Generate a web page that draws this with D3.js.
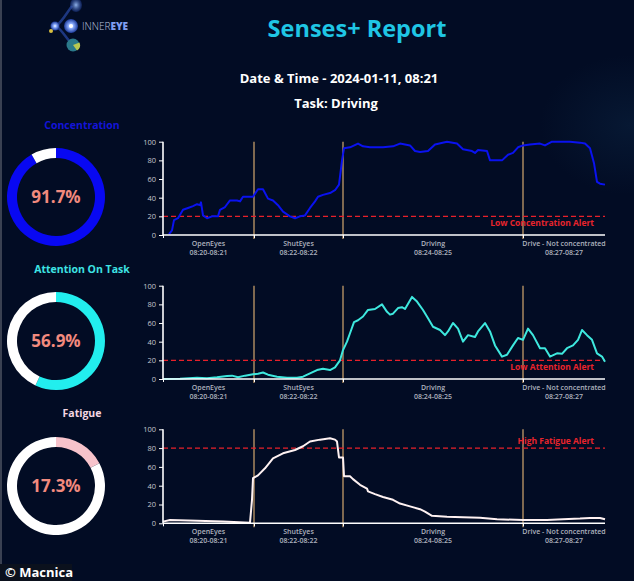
<!DOCTYPE html>
<html><head><meta charset="utf-8">
<script src="https://cdn.jsdelivr.net/npm/d3@7"></script>
<style>
html,body{margin:0;padding:0;background:#020c24;overflow:hidden}
svg{display:block}
text{font-family:"Open Sans","Noto Sans",sans-serif}
</style></head>
<body><svg id="c" width="634" height="581"></svg>
<script>
// ---------- data ----------
const title = "Senses+ Report";
const dateLine = "Date & Time - 2024-01-11, 08:21";
const taskLine = "Task: Driving";
const segmentNames = ["OpenEyes", "ShutEyes", "Driving", "Drive - Not concentrated"];
const segmentTimes = ["08:20-08:21", "08:22-08:22", "08:24-08:25", "08:27-08:27"];
const segmentBounds = [0, 91, 180, 360, 442];
const yTicks = [0, 20, 40, 60, 80, 100];

const gaugeNames = ["Concentration", "Attention On Task", "Fatigue"];
const gaugeValues = [91.7, 56.9, 17.3];

const concT = [6,9,11,15,20,25,30,34,37,38,40,44,49,55,57,62,67,74,77,80,90,95,100,105,110,115,120,127,132,137,142,147,152,155,160,167,172,176,179,181,187,195,200,207,220,230,237,247,252,257,265,272,284,294,300,309,312,315,324,327,339,345,350,355,360,367,377,382,389,400,407,417,422,427,431,434,437,442];
const concV = [1,5,16,18,27,29,31,33,32,35,21,18,20,20,27,30,37,37,36,41,41,49,49,39,37,32,25,20,18,20,21,29,36,41,43,45,48,54,80,93,94,98,95,94,94,95,98,96,90,89,90,97,100,98,92,90,88,91,90,80,80,86,88,94,96,97,98,96,100,100,100,99,98,93,77,57,55,54];

const attT = [0,17,34,44,54,64,69,75,82,90,95,100,105,114,124,134,140,147,154,160,167,172,177,180,184,187,191,195,200,205,212,219,224,227,230,235,239,242,249,254,260,265,270,277,282,285,290,295,300,305,312,315,322,327,332,339,344,350,355,360,365,370,377,382,387,394,399,404,410,415,419,424,429,434,439,442];
const attV = [0,0.4,1.4,0.7,1.8,3.2,3.6,1.8,3.6,5,5.7,7,4.6,2.5,1.4,1.4,2.5,6,9.6,11,9.6,12.5,20,31,40,49,61,63,67,74,75,80,72,69,70,76,77,75,88,83,74,65,56,52.5,47,51,60,54,40,47,45,51,60,51,36,24,26,36,44,42,54,47,33,33,24,27.5,27,33,36,42,52.5,47,42,27.5,24,18.6];

const fatT = [0,7,34,60,87,89,90,95,102,110,120,132,140,147,157,167,172,174,176,180,181,187,190,197,204,205,212,220,230,237,247,257,262,269,284,300,317,334,360,384,400,417,427,437,442];
const fatV = [1.8,3.5,2.8,1.8,0.7,25,48,51,58.5,69,74.5,78,82,87,89,90.4,89,87,70,70,50,50,47,41,37,34,31,28,25,21,18,15,12.4,8,7,6.4,6,4.3,3.5,3.5,4.3,5,5.7,5.7,4.3];

const alertValues = [20, 20, 80];
const alertLabels = ["Low Concentration Alert", "Low Attention Alert", "High Fatigue Alert"];

// ---------- drawing ----------
const svg = d3.select("#c");
const defs = svg.append("defs");
const bg = defs.append("radialGradient").attr("id","bgGlow").attr("cx","0.5").attr("cy","0.5").attr("r","0.5");
bg.append("stop").attr("offset","0").attr("stop-color","#123456").attr("stop-opacity",0.3);
bg.append("stop").attr("offset","1").attr("stop-color","#123456").attr("stop-opacity",0);

svg.append("rect").attr("width",634).attr("height",581).attr("fill","#020c24");
svg.append("ellipse").attr("cx",630).attr("cy",125).attr("rx",90).attr("ry",70).attr("fill","url(#bgGlow)");
svg.append("rect").attr("x",0).attr("y",0).attr("width",2).attr("height",581).attr("fill","#3a4152");

// logo
const lg = defs.append("radialGradient").attr("id","lg1");
lg.append("stop").attr("offset","0").attr("stop-color","#ffffff");
lg.append("stop").attr("offset","0.35").attr("stop-color","#8fb0ff");
lg.append("stop").attr("offset","1").attr("stop-color","#1c3a9a");
const lg2 = defs.append("radialGradient").attr("id","lg2");
lg2.append("stop").attr("offset","0").attr("stop-color","#9fc4ff").attr("stop-opacity",0.9);
lg2.append("stop").attr("offset","1").attr("stop-color","#1f3f9f").attr("stop-opacity",0.4);
const logo = svg.append("g");
logo.append("path").attr("d","M56 26 C62 22 66 14 72 6 M56 26 C62 30 66 38 72 44").attr("stroke","#2a4aa8").attr("stroke-width",2.5).attr("fill","none").attr("opacity",0.7);
logo.append("ellipse").attr("cx",76).attr("cy",5).attr("rx",6).attr("ry",7).attr("fill","url(#lg2)");
logo.append("circle").attr("cx",55).attr("cy",26).attr("r",4.5).attr("fill","url(#lg1)");
logo.append("circle").attr("cx",71).attr("cy",26).attr("r",7).attr("fill","url(#lg1)");
logo.append("circle").attr("cx",71).attr("cy",26).attr("r",2).attr("fill","#ffffff");
logo.append("circle").attr("cx",73).attr("cy",45).attr("r",6.5).attr("fill","#2b7a8a");
logo.append("path").attr("d","M73 45 L79.5 42.5 A6.5 6.5 0 0 1 77 50.5 Z").attr("fill","#b8c850");
logo.append("circle").attr("cx",51).attr("cy",31).attr("r",2).attr("fill","#d8c040");
const lt = logo.append("text").attr("x",82).attr("y",30).attr("font-size",10).attr("fill","#b8c2dc");
lt.append("tspan").text("INNER").attr("font-weight",300);
lt.append("tspan").text("EYE").attr("font-weight",800).attr("fill","#7f9df0");

// titles
svg.append("text").attr("x",357).attr("y",37).attr("text-anchor","middle").attr("font-size",23.5).attr("font-weight",700).attr("fill","#1fc6e4").text(title);
svg.append("text").attr("x",339).attr("y",83).attr("text-anchor","middle").attr("font-size",13).attr("font-weight",700).attr("fill","#ffffff").text(dateLine);
svg.append("text").attr("x",336).attr("y",108).attr("text-anchor","middle").attr("font-size",13).attr("font-weight",700).attr("fill","#ffffff").text(taskLine);

// gauges
const gaugeColors = ["#0808f2", "#22eeee", "#f7c3cb"];
const gaugeLabelColors = ["#1414d8", "#3ee4e4", "#f3d6e2"];
const gaugeCy = [197, 341, 486];
const gaugeLabelY = [129, 273, 417];
const arc = d3.arc().innerRadius(39).outerRadius(49);
gaugeValues.forEach((v,i) => {
  const g = svg.append("g").attr("transform",`translate(56,${gaugeCy[i]})`);
  const pie = d3.pie().sort(null).value(d=>d)([v, 100 - v]);
  g.selectAll("path").data(pie).join("path").attr("d",arc)
    .attr("fill",(d,j)=> j===0 ? gaugeColors[i] : "#ffffff");
  g.append("text").attr("y",6).attr("text-anchor","middle").attr("font-size",17).attr("font-weight",700).attr("fill","#f28a7e").text(v.toFixed(1) + "%");
  svg.append("text").attr("x",82).attr("y",gaugeLabelY[i]).attr("text-anchor","middle").attr("font-size",10.5).attr("font-weight",700).attr("fill",gaugeLabelColors[i]).text(gaugeNames[i]);
});

// line charts
const x = d3.scaleLinear().domain([segmentBounds[0], segmentBounds[4]]).range([163, 605]);
const charts = [
  {t: concT, v: concV, color: "#0a12f0", top: 141.7, bottom: 235, alert: 0, labelAbove: false},
  {t: attT, v: attV, color: "#3ee8de", top: 285.7, bottom: 379, alert: 1, labelAbove: false},
  {t: fatT, v: fatV, color: "#fff2f2", top: 429.3, bottom: 523.3, alert: 2, labelAbove: true}
];
charts.forEach(c => {
  const y = d3.scaleLinear().domain([0,100]).range([c.bottom, c.top]);
  const g = svg.append("g");
  segmentBounds.slice(1,4).forEach(b => {
    g.append("line").attr("x1",x(b)).attr("x2",x(b)).attr("y1",y(100)).attr("y2",y(0)+4)
      .attr("stroke","#e8b676").attr("stroke-width",1.1);
  });
  g.append("line").attr("x1",x(0)).attr("x2",x(442)).attr("y1",y(alertValues[c.alert])).attr("y2",y(alertValues[c.alert]))
    .attr("stroke","#e8202a").attr("stroke-width",1.2).attr("stroke-dasharray","5,3");
  g.append("text").attr("x",x(442)-11).attr("y", c.labelAbove ? y(alertValues[c.alert]) - 4 : y(alertValues[c.alert]) + 10)
    .attr("text-anchor","end").attr("font-size",8.5).attr("font-weight",700).attr("fill","#e8242c").text(alertLabels[c.alert]);
  const line = d3.line().x((d,i)=>x(c.t[i])).y(d=>y(d));
  g.append("path").datum(c.v).attr("d",line).attr("fill","none").attr("stroke",c.color).attr("stroke-width",2).attr("stroke-linejoin","round");
  const ya = g.append("g").attr("transform",`translate(${x(0)},0)`)
    .call(d3.axisLeft(y).tickValues(yTicks).tickSize(4).tickPadding(3));
  ya.select(".domain").attr("stroke","#ffffff").attr("stroke-width",1.6).attr("d",`M0,${y(100)}V${y(0)}`);
  ya.selectAll(".tick line").attr("stroke","#ffffff");
  ya.selectAll(".tick text").attr("fill","#c4c6cc").attr("font-size",7.5);
  const xa = g.append("g").attr("transform",`translate(0,${y(0)})`)
    .call(d3.axisBottom(x).tickValues(segmentBounds.slice(0,4)).tickSize(3).tickFormat(""));
  xa.select(".domain").attr("stroke","#ffffff").attr("stroke-width",1.6).attr("d",`M${x(0)},0H${x(442)}`);
  xa.selectAll(".tick line").attr("stroke","#ffffff");
  segmentNames.forEach((s,i) => {
    const cx = (x(segmentBounds[i]) + x(segmentBounds[i+1]))/2;
    g.append("text").attr("x",cx).attr("y",y(0)+10.5).attr("text-anchor","middle").attr("font-size",7).attr("font-weight",600).attr("fill","#aeb2be").text(s);
    g.append("text").attr("x",cx).attr("y",y(0)+19.5).attr("text-anchor","middle").attr("font-size",7).attr("font-weight",600).attr("fill","#aeb2be").text(segmentTimes[i]);
  });
});

// credit
svg.append("rect").attr("x",0).attr("y",564).attr("width",72).attr("height",17).attr("fill","#0b111d");
svg.append("text").attr("x",5).attr("y",577).attr("font-family","Liberation Sans, Arial, sans-serif").attr("font-size",13).attr("font-weight",700).attr("fill","#ffffff").text("© Macnica");
</script></body></html>
